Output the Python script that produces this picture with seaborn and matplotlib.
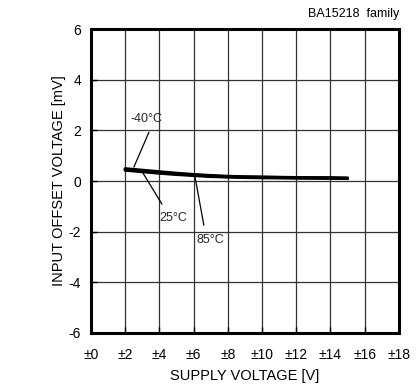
import matplotlib
matplotlib.use("Agg")
import matplotlib.pyplot as plt
import seaborn as sns
import pandas as pd

sns.set_theme(style="white")
plt.rcParams["font.family"] = ["Liberation Sans", "DejaVu Sans"]
plt.rcParams["axes.unicode_minus"] = False

supply_v = [2, 3, 4, 5, 6, 7, 8, 9, 10, 12, 14, 15]
vio_m40 = [0.49, 0.43, 0.37, 0.31, 0.26, 0.22, 0.19, 0.17, 0.16, 0.14, 0.13, 0.12]
vio_25 = [0.46, 0.40, 0.34, 0.29, 0.24, 0.20, 0.17, 0.16, 0.15, 0.13, 0.12, 0.11]
vio_85 = [0.43, 0.37, 0.31, 0.26, 0.22, 0.18, 0.16, 0.14, 0.13, 0.12, 0.11, 0.10]
temps = ["-40°C", "25°C", "85°C"]

x_ticks = list(range(0, 19, 2))
x_labels = ["±%d" % v for v in x_ticks]
y_ticks = list(range(-6, 7, 2))

df = pd.DataFrame({
    "v": supply_v * 3,
    "vio": vio_m40 + vio_25 + vio_85,
    "temp": [t for t in temps for _ in supply_v],
})

fig = plt.figure(figsize=(4.19, 3.89), dpi=100)
ax = fig.add_axes([0.217, 0.144, 0.735, 0.781])

sns.lineplot(data=df, x="v", y="vio", hue="temp",
             palette=["black"] * 3, linewidth=2.2, legend=False, ax=ax)

ax.set_xlim(0, 18)
ax.set_ylim(-6, 6)
ax.set_xticks(x_ticks)
ax.set_xticklabels(x_labels)
ax.set_yticks(y_ticks)
ax.grid(True, color="#333333", linewidth=0.9)
for s in ax.spines.values():
    s.set_color("black")
    s.set_linewidth(2.2)
ax.tick_params(direction="in", length=4, width=1, colors="black",
               labelsize=10, top=False, right=False, left=True, bottom=True)
ax.tick_params(axis="x", pad=11)
ax.tick_params(axis="y", pad=7)
ax.set_xlabel("SUPPLY VOLTAGE [V]", fontsize=10.5, color="black", labelpad=5)
ax.set_ylabel("INPUT OFFSET VOLTAGE [mV]", fontsize=10.5, color="black", labelpad=2)

ax.text(1.0, 1.03, "BA15218  family", transform=ax.transAxes,
        ha="right", va="bottom", fontsize=9, color="black")

# leader lines from each curve to its temperature label
leader = dict(arrowstyle="-", color="black", linewidth=0.9, shrinkA=0, shrinkB=0)
ax.annotate("", xy=(2.51, 0.55), xytext=(3.39, 1.93), arrowprops=leader)
ax.annotate("", xy=(3.04, 0.32), xytext=(4.15, -0.91), arrowprops=leader)
ax.annotate("", xy=(6.08, 0.18), xytext=(6.6, -1.74), arrowprops=leader)
ax.text(3.27, 2.45, temps[0], ha="center", va="center", fontsize=9)
ax.text(4.79, -1.46, temps[1], ha="center", va="center", fontsize=9)
ax.text(7.0, -2.33, temps[2], ha="center", va="center", fontsize=9)

fig.savefig("out.png", dpi=100)
